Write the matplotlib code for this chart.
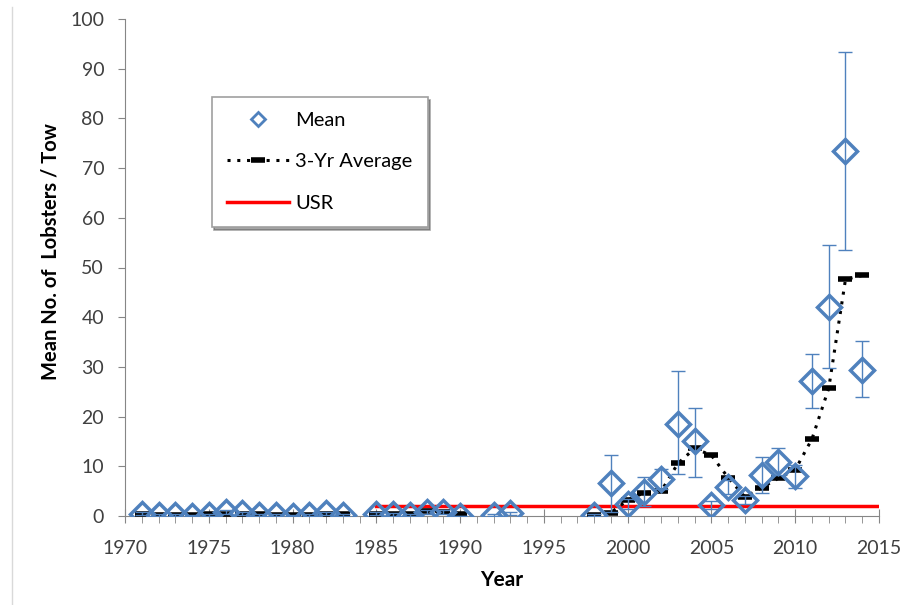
import matplotlib.pyplot as plt
import numpy as np
from matplotlib.lines import Line2D
from matplotlib.ticker import MultipleLocator

plt.rcParams['font.family'] = ['Lato', 'DejaVu Sans']

# survey means per year (gaps = no survey)
years = [1971, 1972, 1973, 1974, 1975, 1976, 1977, 1978, 1979, 1980, 1981, 1982, 1983,
         1985, 1986, 1987, 1988, 1989, 1990, 1992, 1993,
         1998, 1999, 2000, 2001, 2002, 2003, 2004, 2005, 2006, 2007, 2008, 2009, 2010,
         2011, 2012, 2013, 2014]
means = [0.5, 0.3, 0.2, 0.1, 0.2, 0.8, 0.6, 0.2, 0.3, 0.1, 0.2, 0.6, 0.3,
         0.5, 0.4, 0.2, 0.9, 0.9, 0.0, 0.2, 0.6,
         0.2, 6.6, 2.4, 4.9, 7.4, 18.6, 15.0, 2.3, 5.9, 3.2, 8.2, 10.9, 8.0,
         27.2, 42.1, 73.4, 29.4]
err_low = [0.3, 0.2, 0.2, 0.1, 0.2, 0.4, 0.3, 0.2, 0.2, 0.1, 0.2, 0.3, 0.2,
           0.3, 0.3, 0.2, 0.4, 0.4, 0.0, 0.2, 0.3,
           0.2, 5.7, 1.0, 2.9, 2.0, 10.1, 7.2, 0.8, 1.4, 0.8, 3.5, 2.7, 2.4,
           5.5, 12.4, 19.9, 5.5]
err_high = [0.3, 0.2, 0.2, 0.1, 0.2, 0.4, 0.3, 0.2, 0.2, 0.1, 0.2, 0.3, 0.2,
            0.3, 0.3, 0.2, 0.4, 0.4, 0.0, 0.2, 0.3,
            0.2, 5.6, 1.0, 2.9, 2.0, 10.6, 6.8, 0.8, 1.4, 0.8, 3.7, 2.7, 2.3,
            5.3, 12.4, 20.0, 5.9]

# 3-year running average (None breaks the line)
avg_years = [1971, 1972, 1973, 1974, 1975, 1976, 1977, 1978, 1979, 1980, 1981, 1982, 1983,
             1984, 1985, 1986, 1987, 1988, 1989, 1990, 1991,
             1998, 1999, 2000, 2001, 2002, 2003, 2004, 2005, 2006, 2007, 2008, 2009, 2010,
             2011, 2012, 2013, 2014]
avg_vals = [0.4, 0.3, 0.2, 0.2, 0.4, 0.5, 0.5, 0.4, 0.2, 0.2, 0.3, 0.4, 0.4,
            None, 0.5, 0.4, 0.4, 1.0, 0.9, 0.5, None,
            0.2, 0.7, 3.2, 4.7, 5.0, 10.6, 13.6, 12.2, 7.7, 3.8, 5.7, 7.6, 9.3,
            15.5, 25.7, 47.6, 48.4]

usr_years = [1985, 2015]
usr_vals = [2, 2]

blue = '#4F81BD'
grey = '#868686'
text_col = '#404040'

fig = plt.figure(figsize=(9.06, 6.05), dpi=100)
ax = fig.add_axes([125 / 906, 1 - 516 / 605, 754 / 906, 497 / 605])

ax.plot(usr_years, usr_vals, color='#FF0000', lw=2.5, label='USR', zorder=2)

avg_plot = np.array([np.nan if v is None else v for v in avg_vals])
ax.plot(avg_years, avg_plot, color='black', ls=(0, (1, 2.2)), lw=2.2,
        marker='_', markersize=10, mew=4, label='3-Yr Average', zorder=3)

ax.errorbar(years, means, yerr=[err_low, err_high], fmt='none', ecolor=blue,
            elinewidth=1, capsize=5, capthick=1, zorder=4)
ax.plot(years, means, ls='none', marker='D', markersize=12, mfc='none',
        mec=blue, mew=2.5, label='Mean', zorder=5)

ax.set_xlim(1970, 2015)
ax.set_ylim(0, 100)
ax.xaxis.set_major_locator(MultipleLocator(5))
ax.xaxis.set_minor_locator(MultipleLocator(1))
ax.yaxis.set_major_locator(MultipleLocator(10))

for s in ['top', 'right']:
    ax.spines[s].set_visible(False)
for s in ['left', 'bottom']:
    ax.spines[s].set_color(grey)
ax.tick_params(axis='x', which='major', direction='inout', length=10, color=grey,
               labelsize=14, labelcolor=text_col, pad=12)
ax.tick_params(axis='x', which='minor', direction='out', length=5, color=grey)
ax.tick_params(axis='y', which='major', direction='out', length=5, color=grey,
               labelsize=14, labelcolor=text_col, pad=10)

ax.set_xlabel('Year', fontsize=15, fontweight='bold', labelpad=10)
ax.set_ylabel('Mean No. of  Lobsters / Tow', fontsize=14.5, fontweight='bold',
              labelpad=7, y=0.533)

handles, labels = ax.get_legend_handles_labels()
order = [2, 1, 0]
leg = ax.legend([handles[i] for i in order], [labels[i] for i in order],
                loc='upper left', bbox_to_anchor=(0.115, 0.843), fontsize=14.5,
                frameon=True, fancybox=False, shadow=True, handlelength=3.1,
                handletextpad=0.3, borderpad=0.75, labelspacing=1.2, borderaxespad=0)
leg.get_frame().set_edgecolor('#a0a0a0')
leg.get_frame().set_linewidth(1.2)
leg.legend_handles[0].set_markersize(7)
leg.legend_handles[0].set_markeredgewidth(2)

fig.add_artist(Line2D([12 / 906, 12 / 906], [0, 1 - 7 / 605], color='#d9d9d9', lw=1))

fig.savefig('out.png', dpi=100)
